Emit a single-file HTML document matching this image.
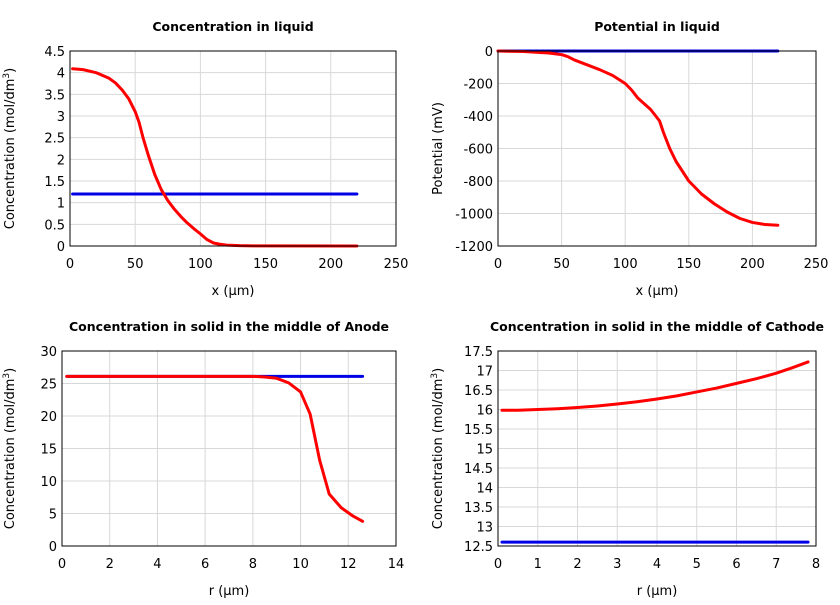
<!DOCTYPE html>
<html><head><meta charset="utf-8"><style>
body{margin:0;background:#fff;font-family:"Liberation Sans","DejaVu Sans",sans-serif}
svg text{font-family:"DejaVu Sans","Liberation Sans",sans-serif}
</style></head><body>
<svg id="c" width="840" height="600" xmlns="http://www.w3.org/2000/svg"></svg>
<script>
// Plot 1: Concentration in liquid
const p1RedX=[2,10,20,30,35,40,45,50,53,56,60,65,70,75,80,85,90,95,100,105,110,115,120,130,140,220];
const p1RedY=[4.09,4.07,4.0,3.87,3.76,3.6,3.4,3.1,2.85,2.5,2.1,1.65,1.3,1.05,0.85,0.68,0.53,0.4,0.28,0.15,0.07,0.04,0.02,0.008,0.003,0];
const p1BlueX=[2,220];const p1BlueY=[1.2,1.2];
const p1XTicks=[0,50,100,150,200,250];
const p1YTicks=[0,0.5,1,1.5,2,2.5,3,3.5,4,4.5];
// Plot 2: Potential in liquid
const p2RedX=[0,20,40,50,55,60,70,80,90,100,105,110,120,127,130,135,140,150,160,170,180,190,200,210,220];
const p2RedY=[0,-3,-12,-22,-35,-55,-85,-115,-150,-200,-240,-290,-360,-430,-500,-600,-680,-800,-880,-940,-990,-1030,-1055,-1068,-1072];
const p2BlueX=[0,220];const p2BlueY=[0,0];
const p2XTicks=[0,50,100,150,200,250];
const p2YTicks=[-1200,-1000,-800,-600,-400,-200,0];
// Plot 3: Anode solid
const p3RedX=[0.2,8,8.5,9,9.5,10,10.4,10.8,11.2,11.7,12.2,12.6];
const p3RedY=[26.1,26.1,26.0,25.8,25.1,23.7,20.3,13.2,8,5.9,4.6,3.8];
const p3BlueX=[0.2,12.6];const p3BlueY=[26.1,26.1];
const p3XTicks=[0,2,4,6,8,10,12,14];
const p3YTicks=[0,5,10,15,20,25,30];
// Plot 4: Cathode solid
const p4RedX=[0.1,0.5,1,1.5,2,2.5,3,3.5,4,4.5,5,5.5,6,6.5,7,7.4,7.8];
const p4RedY=[15.98,15.98,16.0,16.02,16.05,16.09,16.14,16.2,16.27,16.35,16.45,16.55,16.67,16.79,16.93,17.07,17.22];
const p4BlueX=[0.1,7.8];const p4BlueY=[12.6,12.6];
const p4XTicks=[0,1,2,3,4,5,6,7,8];
const p4YTicks=[12.5,13,13.5,14,14.5,15,15.5,16,16.5,17,17.5];

const NS="http://www.w3.org/2000/svg";const svg=document.getElementById('c');
function mk(t,a,p){const e=document.createElementNS(NS,t);for(const k in a)e.setAttribute(k,a[k]);(p||svg).appendChild(e);return e;}
function chart(id,L,T,R,B,xt,yt,title,xl,yl,sup,series){
 const g=mk('g',{});
 
 
 const x0=xt[0],x1=xt[xt.length-1],y0=yt[0],y1=yt[yt.length-1];
 const sx=v=>L+(v-x0)/(x1-x0)*(R-L), sy=v=>B-(v-y0)/(y1-y0)*(B-T);
 xt.forEach(v=>{const gl=mk('line',{x1:sx(v),x2:sx(v),y1:T,y2:B,stroke:'#d8d8d8','stroke-width':1},g);
  
  const t=mk('text',{x:sx(v),y:B+22,'text-anchor':'middle','font-size':13},g);t.textContent=v;
  });
 yt.forEach(v=>{const gl=mk('line',{x1:L,x2:R,y1:sy(v),y2:sy(v),stroke:'#d8d8d8','stroke-width':1},g);
  
  const t=mk('text',{x:L-5,y:sy(v)+5,'text-anchor':'end','font-size':13},g);t.textContent=v;
  });
 series.forEach(s=>{const p=mk('polyline',{points:s.x.map((v,i)=>sx(v)+','+sy(s.y[i])).join(' '),fill:'none',stroke:s.c,'stroke-width':3,'stroke-linejoin':'round','stroke-linecap':'round'},g);
  });
 const fr=mk('rect',{x:L,y:T,width:R-L,height:B-T,fill:'none',stroke:'#000','stroke-width':1},g);
 
 const tt=mk('text',{x:(L+R)/2,y:T-20,'text-anchor':'middle','font-size':12.5,'font-weight':'bold'},g);tt.textContent=title;
 
 const xa=mk('text',{x:(L+R)/2,y:B+49,'text-anchor':'middle','font-size':13},g);xa.textContent=xl;
 
 const ya=mk('text',{x:0,y:0,'text-anchor':'middle','font-size':13,transform:`translate(${L-(L>65?56:48)},${(T+B)/2}) rotate(-90)`},g);
 
 if(sup){ya.textContent=yl;const ts=mk('tspan',{'baseline-shift':'super','font-size':9},ya);ts.textContent='3';const t2=mk('tspan',{},ya);t2.textContent=')';}
 else ya.textContent=yl;
}
chart('plot-liquid-concentration',70,51,396,246,p1XTicks,p1YTicks,'Concentration in liquid','x (µm)','Concentration (mol/dm',true,
 [{x:p1BlueX,y:p1BlueY,c:'#0000e6',n:'blue-series'},{x:p1RedX,y:p1RedY,c:'#ff0000',n:'red-series'}]);
chart('plot-liquid-potential',498,51,816,246,p2XTicks,p2YTicks,'Potential in liquid','x (µm)','Potential (mV)',false,
 [{x:p2BlueX,y:p2BlueY,c:'#0000e6',n:'blue-series'},{x:p2RedX,y:p2RedY,c:'#ff0000',n:'red-series'}]);
chart('plot-anode-solid',62,351,396,546,p3XTicks,p3YTicks,'Concentration in solid in the middle of Anode','r (µm)','Concentration (mol/dm',true,
 [{x:p3BlueX,y:p3BlueY,c:'#0000e6',n:'blue-series'},{x:p3RedX,y:p3RedY,c:'#ff0000',n:'red-series'}]);
chart('plot-cathode-solid',498,351,816,546,p4XTicks,p4YTicks,'Concentration in solid in the middle of Cathode','r (µm)','Concentration (mol/dm',true,
 [{x:p4BlueX,y:p4BlueY,c:'#0000e6',n:'blue-series'},{x:p4RedX,y:p4RedY,c:'#ff0000',n:'red-series'}]);
</script>
</body></html>
